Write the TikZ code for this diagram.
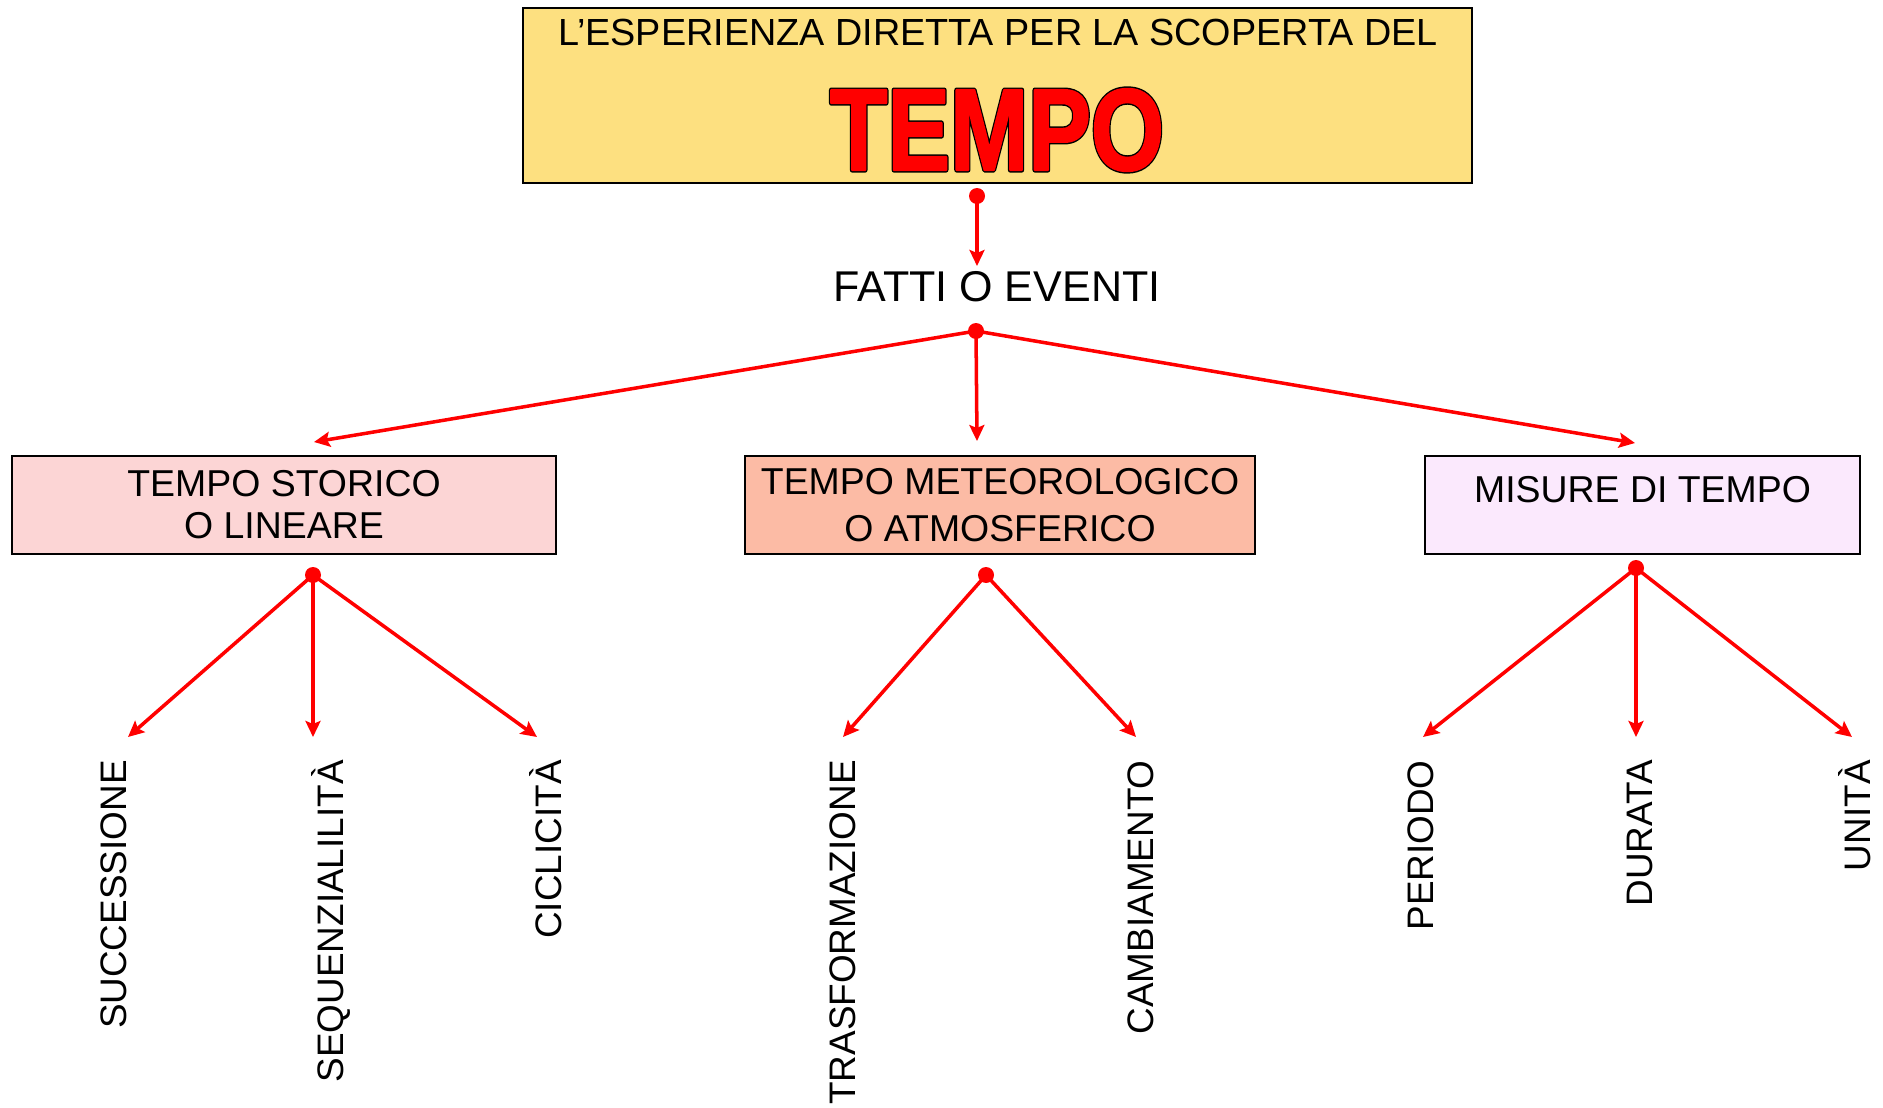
\documentclass[tikz,border=0pt]{standalone}
\usepackage{fontspec}
\setmainfont{Liberation Sans}
\newfontfamily\tempobordo{Liberation Sans Bold}[FakeBold=4.5]
\newfontfamily\tempofont{Liberation Sans Bold}[FakeBold=2]
\usetikzlibrary{arrows.meta}
\definecolor{giallo}{RGB}{253,224,128}
\definecolor{rosa}{RGB}{252,213,213}
\definecolor{salmone}{RGB}{252,187,165}
\definecolor{lilla}{RGB}{251,233,253}
\tikzset{
	box/.style={draw=black, line width=1.1pt, minimum height=1.96cm, inner sep=0pt, align=center, font=\fontsize{21.3}{24}\selectfont},
	dot/.style={circle, fill=red, inner sep=0pt, minimum size=0.32cm},
	connector/.style={red, line width=2pt, -{Stealth[length=0.32cm,width=0.3cm,inset=0.06cm]}},
	voce/.style={rotate=90, anchor=base east, inner sep=0pt, font=\fontsize{21}{24}\selectfont}
}

\begin{document}
\begin{tikzpicture}[x=0.02cm, y=-0.02cm]
			%%%%% START %%%%%
			\useasboundingbox (0, 0) rectangle (1883, 1108);
			
			% titolo
			\node[box, fill=giallo, minimum width=19cm, minimum height=3.5cm] (titolo) at (997.5, 95.5) {};
			\node[inner sep=0pt, font=\fontsize{21.5}{24}\selectfont] (sottotitolo) at (998, 32) {L’ESPERIENZA DIRETTA PER LA SCOPERTA DEL};
			\node[inner sep=0pt, line join=round, miter limit=1] (tempobordo) at (997, 130) {\scalebox{0.81}[1]{\tempobordo\fontsize{66}{70}\selectfont\textcolor{black}{TEMPO}}};
			\node[inner sep=0pt, line join=round, miter limit=1] (tempo) at (997, 130) {\scalebox{0.81}[1]{\tempofont\fontsize{66}{70}\selectfont\textcolor{red}{TEMPO}}};
			
			\node[dot] (p0) at (977, 196) {};
			\coordinate (q0) at (977, 266);
			\draw[connector] (p0.center) -- (q0);
			
			\node[inner sep=0pt, font=\fontsize{24.5}{27}\selectfont] (fatti) at (997, 287) {FATTI O EVENTI};
			
			% tre rami
			\node[dot] (p1) at (976, 331) {};
			\coordinate (q1) at (314, 442);
			\coordinate (q2) at (977, 441);
			\coordinate (q3) at (1635, 443);
			\draw[connector] (p1.center) -- (q1);
			\draw[connector] (p1.center) -- (q2);
			\draw[connector] (p1.center) -- (q3);
			
			\node[box, fill=rosa, minimum width=10.88cm] (storico) at (284, 505) {TEMPO STORICO\\O LINEARE};
			\node[box, fill=salmone, minimum width=10.2cm, font=\fontsize{21.3}{27}\selectfont] (meteo) at (1000, 505) {TEMPO METEOROLOGICO\\O ATMOSFERICO};
			\node[box, fill=lilla, minimum width=8.7cm, font=\fontsize{21.3}{17.5}\selectfont] (misure) at (1642.5, 505) {MISURE DI TEMPO\\\mbox{}};
			
			% tempo storico
			\node[dot] (s0) at (313, 575) {};
			\coordinate (s1) at (128, 737);
			\coordinate (s2) at (313, 737);
			\coordinate (s3) at (537, 737);
			\draw[connector] (s0.center) -- (s1);
			\draw[connector] (s0.center) -- (s2);
			\draw[connector] (s0.center) -- (s3);
			\node[voce] (successione) at (126, 760) {SUCCESSIONE};
			\node[voce] (sequenzialita) at (343, 760) {SEQUENZIALILITÀ};
			\node[voce] (ciclicita) at (561, 760) {CICLICITÀ};
			
			% tempo meteorologico
			\node[dot] (m0) at (986, 575) {};
			\coordinate (m1) at (843, 737);
			\coordinate (m2) at (1136, 737);
			\draw[connector] (m0.center) -- (m1);
			\draw[connector] (m0.center) -- (m2);
			\node[voce] (trasformazione) at (855, 760) {TRASFORMAZIONE};
			\node[voce] (cambiamento) at (1153, 760) {CAMBIAMENTO};
			
			% misure di tempo
			\node[dot] (u0) at (1636, 568) {};
			\coordinate (u1) at (1423, 737);
			\coordinate (u2) at (1636, 737);
			\coordinate (u3) at (1852, 737);
			\draw[connector] (u0.center) -- (u1);
			\draw[connector] (u0.center) -- (u2);
			\draw[connector] (u0.center) -- (u3);
			\node[voce] (periodo) at (1433, 760) {PERIODO};
			\node[voce] (durata) at (1652, 760) {DURATA};
			\node[voce] (unita) at (1870, 760) {UNITÀ};
			
			%%%%% END %%%%%
\end{tikzpicture}
\end{document}
